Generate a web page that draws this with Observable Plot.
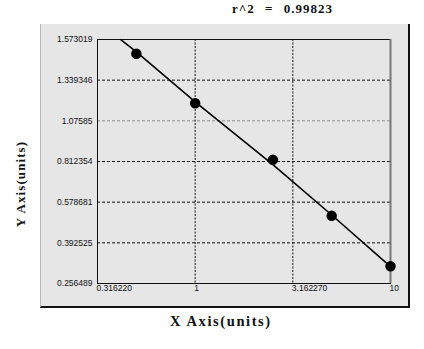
<!DOCTYPE html>
<html><head><meta charset="utf-8">
<script src="https://cdn.jsdelivr.net/npm/d3@7"></script>
<script src="https://cdn.jsdelivr.net/npm/@observablehq/plot@0.6"></script>
<style>
body{margin:0;background:#fff;}
#wrap{position:relative;width:424px;height:349px;overflow:hidden;background:#fff;}
#panel{position:absolute;left:40px;top:24px;width:367px;height:282px;background:#e6e6e6;border-left:1px solid #b8b8b8;border-right:2px solid #111;border-bottom:2px solid #111;}
#chart{position:absolute;left:0;top:0;}
.lbl{position:absolute;font-family:"Liberation Serif","Times New Roman",serif;font-weight:bold;color:#111;white-space:nowrap;}
#title{left:232px;top:1px;font-size:13px;letter-spacing:1px;word-spacing:6px;}
#xlab{left:170px;top:313px;font-size:14.5px;letter-spacing:1.6px;}
#ylab{left:21px;top:184px;font-size:13px;letter-spacing:1.1px;transform:translate(-50%,-50%) rotate(-90deg);}
</style></head>
<body>
<div id="wrap">
  <div id="panel"></div>
  <div id="chart"></div>
  <div class="lbl" id="title">r^2 = 0.99823</div>
  <div class="lbl" id="xlab">X Axis(units)</div>
  <div class="lbl" id="ylab">Y Axis(units)</div>
</div>
<script>
// data
const pointX = [0.5, 1, 2.5, 5, 10];
const pointY = [1.491, 1.190, 0.823, 0.516, 0.314];
const fitX = [0.416, 0.5, 1, 2.5, 5, 10];
const fitY = [1.573, 1.502, 1.1986, 0.794, 0.520, 0.313];
const xTickLabels = ["0.316220", "1", "3.162270", "10"];
const yTickLabels = ["0.256489", "0.392525", "0.578681", "0.812354", "1.07585", "1.339346", "1.573019"];
const darkGridY = ["0.392525", "0.578681", "0.812354", "1.339346"];
const lightGridY = ["1.07585"];
const gridX = ["1", "3.162270"];

const xTicks = xTickLabels.map(Number);
const yTicks = yTickLabels.map(Number);
const points = pointX.map((x, i) => ({x, y: pointY[i]}));
const fit = fitX.map((x, i) => ({x, y: fitY[i]}));

const fTop = 39, fBottom = 283, fLeft = 97, fRight = 390;
const yRange = yTicks.map((_, i) => fBottom - i * (fBottom - fTop) / (yTicks.length - 1));

const chart = Plot.plot({
  width: 424, height: 349,
  marginLeft: fLeft, marginRight: 424 - fRight, marginTop: fTop, marginBottom: 349 - fBottom,
  style: {background: "transparent", fontFamily: "'Liberation Sans', Arial, sans-serif", fontSize: "8.5px", color: "#111"},
  x: {type: "log", domain: [xTicks[0], xTicks[xTicks.length - 1]], range: [fLeft, fRight]},
  y: {type: "linear", domain: yTicks, range: yRange},
  marks: [
    Plot.ruleY(darkGridY.map(Number), {stroke: "#111", strokeDasharray: "3,2", strokeWidth: 1}),
    Plot.ruleY(lightGridY.map(Number), {stroke: "#8a8a8a", strokeDasharray: "3,2", strokeWidth: 1}),
    Plot.ruleX(gridX.map(Number), {stroke: "#111", strokeDasharray: "2,1.5", strokeWidth: 1}),
    Plot.frame({stroke: "#111", strokeWidth: 1}),
    Plot.ruleX([xTicks[xTicks.length - 1]], {stroke: "#777", strokeWidth: 2}),
    Plot.axisX({ticks: xTicks, tickFormat: d => xTickLabels[xTicks.indexOf(d)], tickSize: 0, tickPadding: 1, textAnchor: "start", dx: -1, label: null}),
    Plot.axisY({ticks: yTicks, tickFormat: d => yTickLabels[yTicks.indexOf(d)], tickSize: 0, tickPadding: 5, label: null}),
    Plot.line(fit, {x: "x", y: "y", stroke: "#000", strokeWidth: 1.6}),
    Plot.dot(points, {x: "x", y: "y", r: 4.5, fill: "#000", stroke: "#000"})
  ]
});
document.getElementById("chart").appendChild(chart);
</script>
</body></html>
